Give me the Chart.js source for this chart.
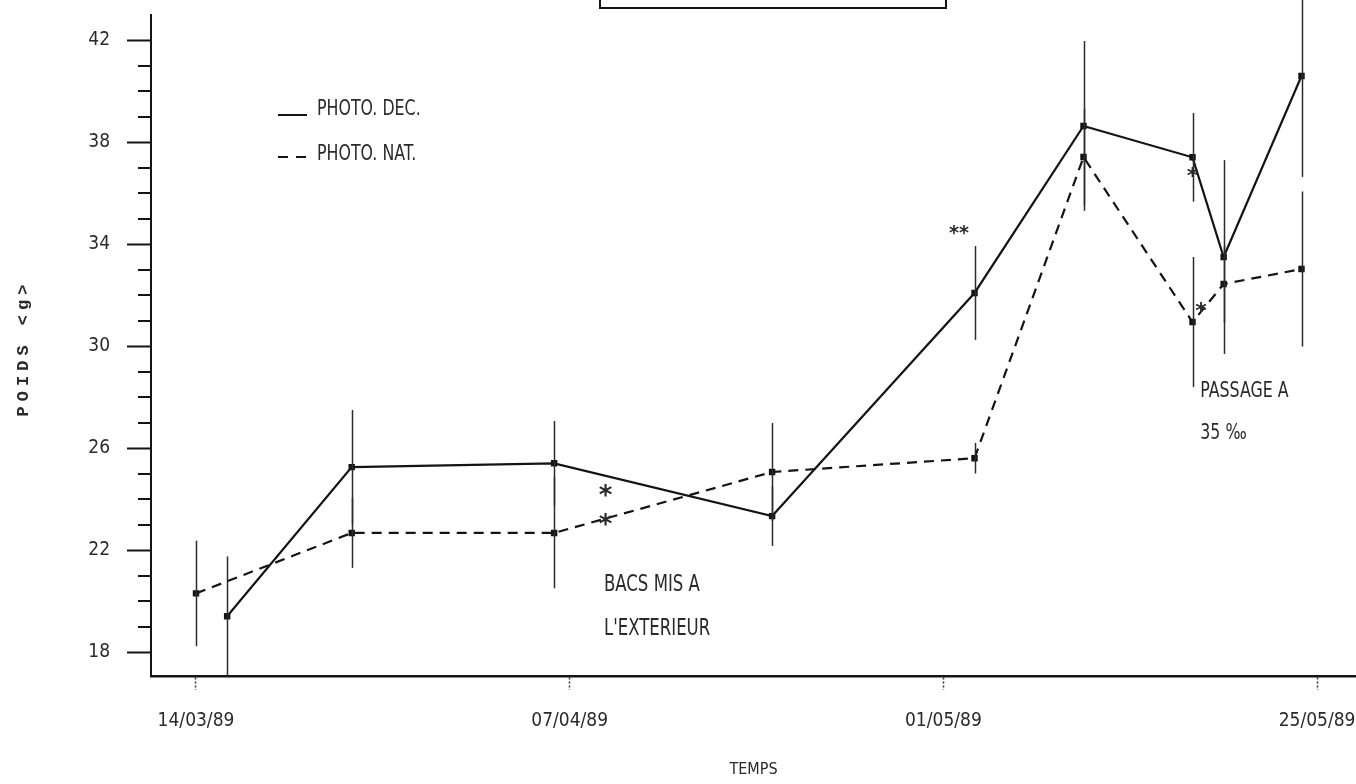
<!DOCTYPE html>
<html>
<head>
<meta charset="utf-8">
<script src="https://cdn.jsdelivr.net/npm/chart.js@4.4.1/dist/chart.umd.min.js"></script>
<style>
  html, body { margin: 0; padding: 0; background: #fff; overflow: hidden; }
  #wrap { width: 1356px; height: 784px; position: relative; }
</style>
</head>
<body>
<div id="wrap"><canvas id="c" width="1356" height="784"></canvas></div>
<script>
// Time axis: days counted from 14/03/89
const tickDays   = [0, 24, 48, 72];
const tickLabels = ['14/03/89', '07/04/89', '01/05/89', '25/05/89'];

// Weight (g) under decaled photoperiod, with standard errors
const decDays   = [2, 10, 23, 37, 50, 57, 64, 66, 71];
const decWeight = [19.4, 25.25, 25.4, 23.33, 32.08, 38.63, 37.4, 33.49, 40.59];
const decErr    = [2.35, 2.24, 1.66, 1.17, 1.84, 3.33, 1.74, 3.8, 3.96];

// Weight (g) under natural photoperiod, with standard errors
const natDays   = [0, 10, 23, 37, 50, 57, 64, 66, 71];
const natWeight = [20.3, 22.67, 22.67, 25.06, 25.6, 37.41, 30.94, 32.43, 33.02];
const natErr    = [2.07, 1.37, 2.17, 1.92, 0.6, 1.9, 2.55, 1.5, 3.04];

// Labelled weight ticks
const yMajor = [18, 22, 26, 30, 34, 38, 42];

const INK  = '#141414';
const TXT  = '#2a2a2a';
const FONT = "'DejaVu Sans Condensed', 'Liberation Sans Narrow', sans-serif";

// Notes placed in data coordinates (day, weight)
const notes = [
  { text: 'BACS MIS A',  day: 26.2, w: 20.72, size: 23 },
  { text: "L'EXTERIEUR", day: 26.2, w: 19.02, size: 23 },
  { text: 'PASSAGE A',   day: 64.5, w: 28.31, size: 22 },
  { text: '35 ‰',        day: 64.5, w: 26.67, size: 22 },
];
const stars = [
  { text: '**', day: 49.0,  w: 34.55, size: 19 },
  { text: '*',  day: 26.3,  w: 24.35, size: 26 },
  { text: '*',  day: 26.3,  w: 23.18, size: 26 },
  { text: '*',  day: 64.0,  w: 36.82, size: 22 },
  { text: '*',  day: 64.55, w: 31.53, size: 22 },
];

// Text whose ink box is vertically centred on y; sx squeezes it horizontally
function drawText(ctx, text, x, y, align, sx) {
  ctx.save();
  ctx.translate(x, y);
  ctx.scale(sx || 1, 1);
  ctx.textAlign = align || 'center';
  ctx.textBaseline = 'alphabetic';
  const m = ctx.measureText(text);
  ctx.fillText(text, 0, (m.actualBoundingBoxAscent - m.actualBoundingBoxDescent) / 2);
  ctx.restore();
}

const overlay = {
  id: 'overlay',
  afterDatasetsDraw(chart) {
    const ctx = chart.ctx;
    const xs = chart.scales.x, ys = chart.scales.y;
    ctx.save();

    // vertical error bars (not clipped to the plot area)
    chart.data.datasets.forEach(ds => {
      ctx.strokeStyle = '#2b2b2b';
      ctx.lineWidth = 1.5;
      ctx.setLineDash([]);
      ds.data.forEach((p, i) => {
        const e = ds.err[i];
        const px = Math.round(xs.getPixelForValue(p.x)) + 0.5;
        ctx.beginPath();
        ctx.moveTo(px, ys.getPixelForValue(p.y + e));
        ctx.lineTo(px, ys.getPixelForValue(p.y - e));
        ctx.stroke();
      });
    });

    // short unlabelled ticks on the weight axis
    ctx.strokeStyle = INK;
    ctx.lineWidth = 2;
    ys.ticks.forEach(t => {
      if (yMajor.includes(t.value)) return;
      const py = Math.round(ys.getPixelForValue(t.value));
      ctx.beginPath();
      ctx.moveTo(ys.right - 13, py);
      ctx.lineTo(ys.right, py);
      ctx.stroke();
    });

    // legend
    const lx = 278, lw = 29, rows = [115, 157], textY = [107, 152];
    chart.data.datasets.forEach((ds, i) => {
      ctx.strokeStyle = INK;
      ctx.lineWidth = 2;
      ctx.setLineDash(ds.borderDash ? [10, 8] : []);
      ctx.beginPath();
      ctx.moveTo(lx, rows[i]);
      ctx.lineTo(lx + lw, rows[i]);
      ctx.stroke();
      ctx.setLineDash([]);
      ctx.fillStyle = TXT;
      ctx.font = '22px ' + FONT;
      drawText(ctx, ds.label, 317, textY[i], 'left', 0.8);
    });

    // notes
    ctx.fillStyle = TXT;
    notes.forEach(n => {
      ctx.font = n.size + 'px ' + FONT;
      drawText(ctx, n.text, xs.getPixelForValue(n.day), ys.getPixelForValue(n.w), 'left', 0.8);
    });
    stars.forEach(s => {
      ctx.font = 'bold ' + s.size + "px 'DejaVu Sans', sans-serif";
      drawText(ctx, s.text, xs.getPixelForValue(s.day), ys.getPixelForValue(s.w), 'center', 1);
    });

    // weight axis title, rotated, wide spaced
    ctx.save();
    ctx.translate(24, 350);
    ctx.rotate(-Math.PI / 2);
    ctx.font = "bold 17px 'Liberation Mono', 'DejaVu Sans Mono', monospace";
    ctx.letterSpacing = '5px';
    ctx.fillStyle = TXT;
    drawText(ctx, 'POIDS <g>', 2, 0, 'center', 1);
    ctx.restore();

    // frame of the heading box along the top edge
    ctx.strokeStyle = INK;
    ctx.lineWidth = 2;
    ctx.strokeRect(600, -12, 346, 20);

    ctx.restore();
  }
};

new Chart(document.getElementById('c'), {
  type: 'scatter',
  data: {
    datasets: [
      {
        label: 'PHOTO. DEC.',
        data: decDays.map((d, i) => ({ x: d, y: decWeight[i] })),
        err: decErr,
        showLine: true,
        borderColor: INK,
        borderWidth: 2.2,
        pointStyle: 'rect',
        pointRadius: 3,
        pointBackgroundColor: INK,
        pointBorderColor: INK,
        tension: 0
      },
      {
        label: 'PHOTO. NAT.',
        data: natDays.map((d, i) => ({ x: d, y: natWeight[i] })),
        err: natErr,
        showLine: true,
        borderColor: INK,
        borderWidth: 2.2,
        borderDash: [10, 7],
        pointStyle: 'rect',
        pointRadius: 3,
        pointBackgroundColor: INK,
        pointBorderColor: INK,
        tension: 0
      }
    ]
  },
  options: {
    responsive: false,
    animation: false,
    layout: { autoPadding: false, padding: { left: 0, right: 0, top: 14.5, bottom: 5 } },
    plugins: { legend: { display: false }, tooltip: { enabled: false } },
    scales: {
      x: {
        type: 'linear',
        min: -2.89,
        max: 74.5,
        afterBuildTicks: s => { s.ticks = tickDays.map(v => ({ value: v })); },
        afterFit: s => { s.height = 103; s.paddingLeft = 0; s.paddingRight = 0; },
        ticks: {
          callback: v => { const k = tickDays.indexOf(v); return k >= 0 ? tickLabels[k] : ''; },
          font: { family: FONT, size: 19 },
          color: TXT,
          padding: 20,
          maxRotation: 0,
          autoSkip: false
        },
        grid: {
          drawOnChartArea: false,
          drawTicks: true,
          tickLength: 14,
          tickColor: '#333',
          tickWidth: 1.5,
          tickBorderDash: [2, 2]
        },
        border: { display: true, color: INK, width: 2.5 },
        title: {
          display: true,
          text: 'TEMPS',
          font: { family: FONT, size: 16 },
          color: TXT,
          padding: { top: 0, bottom: 0 }
        }
      },
      y: {
        min: 17.06,
        max: 43,
        afterBuildTicks: s => { const t = []; for (let v = 18; v <= 42; v++) t.push({ value: v }); s.ticks = t; },
        afterFit: s => { s.width = 151; s.paddingTop = 0; s.paddingBottom = 0; },
        ticks: {
          callback: v => yMajor.includes(v) ? String(v) : '',
          font: { family: FONT, size: 19 },
          color: TXT,
          padding: 17,
          autoSkip: false
        },
        grid: {
          drawOnChartArea: false,
          drawTicks: true,
          tickLength: 24,
          tickWidth: 2,
          tickColor: c => (c.tick && yMajor.includes(c.tick.value)) ? INK : 'rgba(0,0,0,0)'
        },
        border: { display: true, color: INK, width: 2 }
      }
    }
  },
  plugins: [overlay]
});
</script>
</body>
</html>
